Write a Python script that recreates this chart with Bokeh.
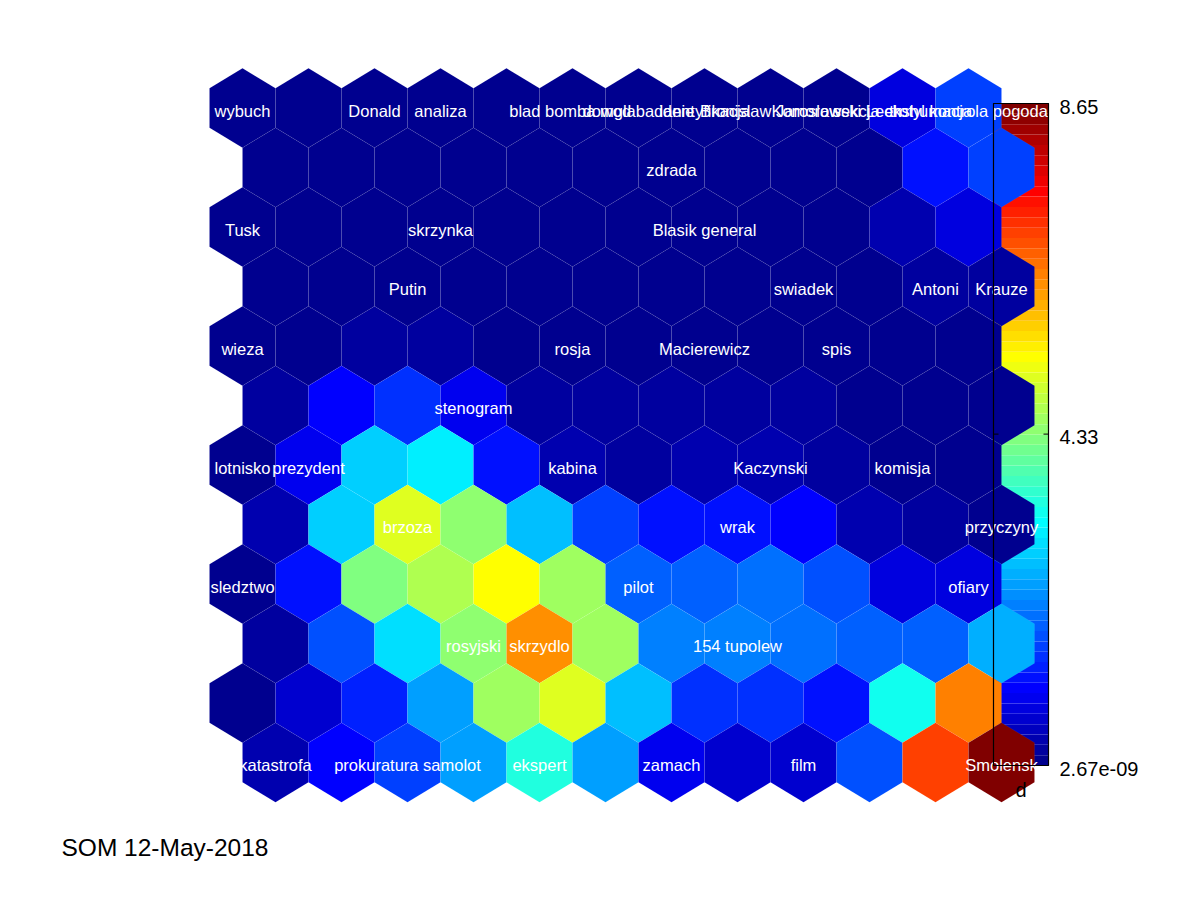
import numpy as np
from bokeh.plotting import figure
from bokeh.models import Range1d, ColumnDataSource, LinearColorMapper, Label
from bokeh.core.properties import value
from bokeh.transform import transform
from bokeh.embed import file_html
from bokeh.resources import INLINE

# ---------------- data ----------------
VMIN = 2.67e-09
VMAX = 8.65
cbar_ticks = [8.65, 4.33, 2.67e-09]
cbar_tick_labels = ["8.65", "4.33", "2.67e-09"]
cbar_label = "d"
title_text = "SOM 12-May-2018"

# U-matrix values, rows top -> bottom, 12 hexes per row
umat_r1 = [0.08, 0.06, 0.07, 0.08, 0.07, 0.08, 0.07, 0.08, 0.07, 0.09, 0.74, 1.55]
umat_r2 = [0.07, 2.67e-09, 0.06, 0.07, 0.08, 0.07, 0.08, 0.07, 0.08, 0.09, 1.15, 1.55]
umat_r3 = [0.07, 0.08, 0.07, 0.08, 0.07, 0.08, 0.07, 0.08, 0.07, 0.10, 0.34, 0.74]
umat_r4 = [0.08, 0.07, 0.08, 0.07, 0.08, 0.07, 0.08, 0.07, 0.08, 0.10, 0.20, 0.20]
umat_r5 = [0.08, 0.10, 0.20, 0.20, 0.10, 0.08, 0.08, 0.10, 0.08, 0.08, 0.09, 0.09]
umat_r6 = [0.20, 1.01, 1.42, 0.88, 0.20, 0.20, 0.20, 0.20, 0.20, 0.10, 0.10, 0.10]
umat_r7 = [0.08, 0.88, 2.77, 3.04, 1.15, 0.34, 0.20, 0.34, 0.34, 0.20, 0.10, 0.10]
umat_r8 = [0.34, 2.77, 5.07, 4.39, 2.64, 1.55, 1.15, 1.15, 1.01, 0.34, 0.20, 0.10]
umat_r9 = [0.10, 1.15, 4.26, 4.66, 5.34, 4.53, 1.82, 1.82, 1.96, 1.69, 0.74, 0.80]
umat_r10 = [0.20, 1.69, 2.91, 4.39, 6.28, 4.53, 2.09, 2.09, 1.96, 1.82, 1.82, 2.50]
umat_r11 = [0.06, 0.61, 1.28, 2.36, 4.53, 5.07, 2.64, 1.42, 1.42, 1.15, 3.31, 6.42]
umat_r12 = [0.34, 1.01, 1.55, 2.36, 3.45, 2.36, 0.88, 0.61, 0.61, 1.69, 6.96, 8.65]
umatrix = [umat_r1, umat_r2, umat_r3, umat_r4, umat_r5, umat_r6,
           umat_r7, umat_r8, umat_r9, umat_r10, umat_r11, umat_r12]

# word labels: (row, column) of the map unit, 1-based, rows counted from the top
label_rows = [1, 1, 1, 1, 1, 1, 1, 1, 1, 1,
              2, 3, 3, 3, 4, 4, 4, 4,
              5, 5, 5, 5, 6,
              7, 7, 7, 7, 7,
              8, 8, 8, 9, 9, 9,
              10, 10, 10,
              12, 12, 12, 12, 12, 12]
label_cols = [1, 3, 4, 6, 7, 8, 9, 10, 11, 12,
              7, 1, 4, 8, 3, 9, 11, 12,
              1, 6, 8, 10, 4,
              1, 2, 6, 9, 11,
              3, 8, 12, 1, 7, 12,
              4, 5, 8,
              1, 3, 5, 7, 9, 12]
label_texts = ["wybuch", "Donald", "analiza", "blad bomba mgla", "dowod badanie",
               "identyfikacja", "Bronislaw Jaroslaw", "Komorowski Lech",
               "sekcja ekshumacja", "trotyl kontrola pogoda",
               "zdrada", "Tusk", "skrzynka", "Blasik general",
               "Putin", "swiadek", "Antoni", "Krauze",
               "wieza", "rosja", "Macierewicz", "spis", "stenogram",
               "lotnisko", "prezydent", "kabina", "Kaczynski", "komisja",
               "brzoza", "wrak", "przyczyny", "sledztwo", "pilot", "ofiary",
               "rosyjski", "skrzydlo", "154 tupolew",
               "katastrofa", "prokuratura samolot", "ekspert", "zamach", "film", "Smolensk"]

# ---------------- jet colormap (64 levels, MATLAB style) ----------------
def jet64():
    cols = []
    for i in range(64):
        if i <= 7:
            r, g, b = 0.0, 0.0, (9 + i) / 16
        elif i <= 23:
            r, g, b = 0.0, (i - 7) / 16, 1.0
        elif i <= 39:
            r, g, b = (i - 23) / 16, 1.0, 1 - (i - 23) / 16
        elif i <= 55:
            r, g, b = 1.0, 1 - (i - 39) / 16, 0.0
        else:
            r, g, b = 1 - (i - 55) / 16, 0.0, 0.0
        cols.append("#%02x%02x%02x" % (round(r * 255), round(g * 255), round(b * 255)))
    return cols

JET = jet64()
mapper = LinearColorMapper(palette=JET, low=VMIN, high=VMAX)

# ---------------- layout ----------------
W, H = 1184, 884
PX_X = 66.0                         # px per hex column
PX_Y = 59.5 / np.sqrt(0.75)         # px per y unit (row step = sqrt(0.75))
X0, Y0 = 242.0, 107.5               # first hex centre on the canvas
x_start = -X0 / PX_X
y_top = -Y0 / PX_Y

p = figure(width=W, height=H, output_backend="svg", toolbar_location=None,
           x_range=Range1d(x_start, x_start + W / PX_X),
           y_range=Range1d(y_top + H / PX_Y, y_top),
           x_axis_type=None, y_axis_type=None, min_border=0)
p.grid.visible = False
p.outline_line_color = None
p.background_fill_color = "white"
p.border_fill_color = "white"

# colorbar coordinate system
CB_L, CB_R, CB_T, CB_B = 993, 1048, 103, 765
cb_w = CB_R - CB_L
vpp = (VMAX - VMIN) / (CB_B - CB_T)
cbx0 = -CB_L / cb_w
p.extra_x_ranges = {"cb": Range1d(cbx0, cbx0 + W / cb_w)}
p.extra_y_ranges = {"cb": Range1d(VMIN - (H - CB_B) * vpp, VMAX + CB_T * vpp)}

# colorbar bands (under the map)
edges = np.linspace(VMIN, VMAX, len(JET) + 1)
p.quad(left=0, right=1, bottom=edges[:-1], top=edges[1:], fill_color=JET,
       line_color=None, x_range_name="cb", y_range_name="cb")

# hexagons
R = 1 / np.sqrt(3)
hx, hy, hv = [], [], []
for r, row in enumerate(umatrix):
    for c, v in enumerate(row):
        cx = c + 0.5 * (r % 2)
        cy = r * np.sqrt(0.75)
        hx.append([cx, cx + 0.5, cx + 0.5, cx, cx - 0.5, cx - 0.5])
        hy.append([cy - R, cy - R / 2, cy + R / 2, cy + R, cy + R / 2, cy - R / 2])
        hv.append(v)
hsrc = ColumnDataSource(dict(xs=hx, ys=hy, v=hv))
p.patches("xs", "ys", source=hsrc, fill_color=transform("v", mapper),
          line_color="white", line_alpha=0.05, line_width=1)

# word labels
lx = [(c - 1) + 0.5 * ((r - 1) % 2) for r, c in zip(label_rows, label_cols)]
ly = [(r - 1) * np.sqrt(0.75) for r in label_rows]
p.text(x=lx, y=ly, text=label_texts, text_color="white", text_align="center",
       text_baseline="middle", y_offset=2.5, text_font=value("Liberation Sans"),
       text_font_size="16.5px")

# colorbar frame, ticks, labels
p.quad(left=0, right=1, bottom=VMIN, top=VMAX, fill_color=None, line_color="black",
       line_width=1.2, x_range_name="cb", y_range_name="cb")
tl = 5 / cb_w
p.segment(x0=[0] * 3, x1=[tl] * 3, y0=cbar_ticks, y1=cbar_ticks, line_color="black",
          x_range_name="cb", y_range_name="cb")
p.segment(x0=[1 - tl] * 3, x1=[1] * 3, y0=cbar_ticks, y1=cbar_ticks, line_color="black",
          x_range_name="cb", y_range_name="cb")
p.text(x=[1] * 3, y=cbar_ticks, text=cbar_tick_labels, x_offset=11, y_offset=3,
       text_align="left", text_baseline="middle", text_color="black",
       text_font=value("Liberation Sans"), text_font_size="20px",
       x_range_name="cb", y_range_name="cb")
p.text(x=[0.5], y=[VMIN], text=[cbar_label], y_offset=24, text_align="center",
       text_baseline="middle", text_color="black",
       text_font=value("Liberation Sans"), text_font_size="20px",
       x_range_name="cb", y_range_name="cb")

p.add_layout(Label(x=61, y=H - 847, x_units="screen", y_units="screen",
                   text=title_text, text_font="Liberation Sans", text_font_size="24.5px",
                   text_color="black", text_baseline="middle", text_align="left"))

open("out.html", "w").write(file_html(p, INLINE))
